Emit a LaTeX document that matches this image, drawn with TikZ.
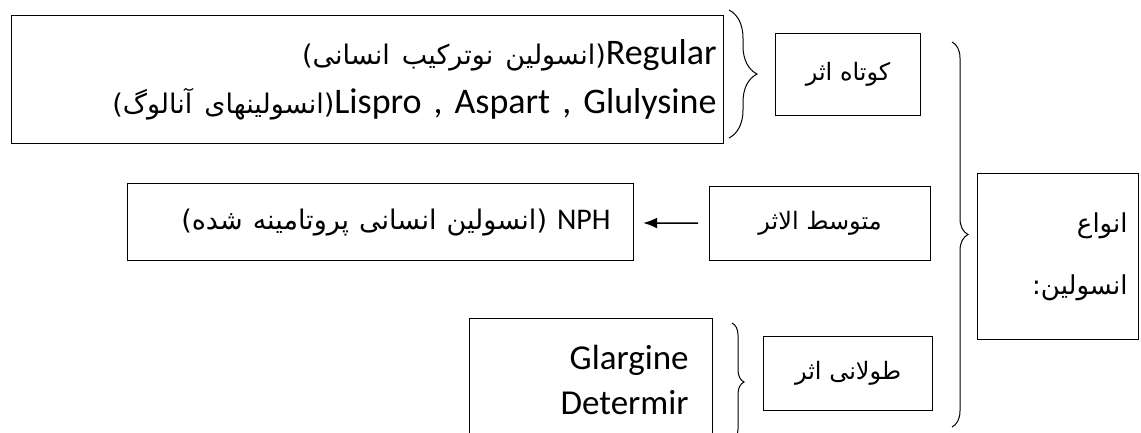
\documentclass[tikz,border=0pt]{standalone}
\usepackage{fontspec}
\setmainfont{Carlito}
\newfontfamily\arfont[Script=Arabic]{DejaVu Sans}
\TeXXeTstate=1
\usetikzlibrary{decorations.pathreplacing}
\usetikzlibrary{arrows.meta}
\newcommand{\rtltext}[1]{\beginR #1\endR}
\tikzset{
	boxnode/.style={rectangle, draw=black, line width=1.2pt, inner sep=0pt, anchor=north west},
	latinbig/.style={font=\fontsize{35}{45}\selectfont},
	latinmid/.style={font=\fontsize{36}{49}\selectfont},
	latinsmall/.style={font=\fontsize{30}{50}\selectfont},
	labelnode/.style={boxnode, align=center, font=\arfont\fontsize{24}{48}\selectfont}
}
\newcommand{\arsmall}{\arfont\fontsize{27}{50}\selectfont}

\begin{document}
\begin{tikzpicture}[x=1pt, y=-1pt]
		\useasboundingbox (0,0) rectangle (1141,432);
		\node[boxnode, latinmid, minimum width=712pt, minimum height=128pt, text width=698pt, align=right] at (11,15) (fast)
			{{\arsmall\rtltext{(انسولین نوترکیب انسانی)}}Regular\\{\arsmall\rtltext{(انسولینهای آنالوگ)}}Lispro , Aspart , Glulysine};
		\node[labelnode, minimum width=145pt, minimum height=82pt] at (775,33) (fastlab)    {\rtltext{کوتاه اثر}};
		\node[boxnode, latinsmall, minimum width=506pt, minimum height=77pt, text width=460pt, align=right] at (127,183) (nph)
			{{\arsmall\rtltext{(انسولین انسانی پروتامینه شده)}} NPH};
		\node[labelnode, minimum width=221pt, minimum height=74pt] at (709,186) (midlab)    {\rtltext{متوسط الاثر}};
		\node[boxnode, latinbig, minimum width=243pt, minimum height=122pt, text width=195pt, align=right] at (469,318) (long)
			{Glargine\\Determir};
		\node[labelnode, minimum width=169pt, minimum height=74pt] at (763,336) (longlab)    {\rtltext{طولانی اثر}};
		\node[labelnode, font=\arfont\fontsize{26}{62}\selectfont, minimum width=161pt, minimum height=166pt, text width=139pt, align=right] at (977,173) (types)
			{\rtltext{انواع}\\\rtltext{انسولین:}};
		
		%Braces
		\coordinate (b1top) at (729,10);
		\coordinate (b1bot) at (729,138);
		\coordinate (b2top) at (732,323);
		\coordinate (b2bot) at (732,441);
		\coordinate (b3top) at (952,42);
		\coordinate (b3bot) at (952,427);
		\draw[line width=1pt, decorate, decoration={brace, amplitude=28pt}] (b1top) -- (b1bot);
		\draw[line width=1pt, decorate, decoration={brace, amplitude=12pt}] (b2top) -- (b2bot);
		\draw[line width=1pt, decorate, decoration={brace, amplitude=16pt}] (b3top) -- (b3bot);
		%Lines
		\draw[-{Latex[length=14pt, width=11pt]}, line width=1.5pt, shorten <=11pt, shorten >=9pt] (midlab) -- (nph);
		
	\end{tikzpicture}
\end{document}
